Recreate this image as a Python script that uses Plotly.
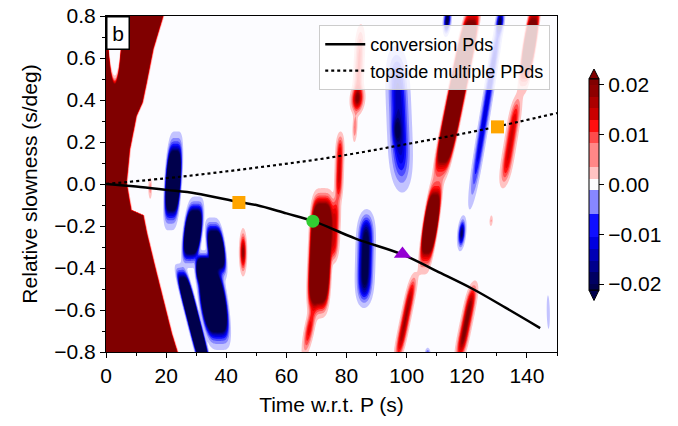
import numpy as np
import plotly.graph_objects as go

# ---------------- axes / ticks ----------------
T_RANGE = [0, 150]
S_RANGE = [-0.8, 0.8]
X_TICKS = [0, 20, 40, 60, 80, 100, 120, 140]
Y_TICKS = [-0.8, -0.6, -0.4, -0.2, 0.0, 0.2, 0.4, 0.6, 0.8]
Y_TICKTEXT = ["−0.8", "−0.6", "−0.4", "−0.2", "0.0", "0.2", "0.4", "0.6", "0.8"]
CB_TICKS = [-0.02, -0.01, 0.0, 0.01, 0.02]
CB_TICKTEXT = ["−0.02", "−0.01", "0.00", "0.01", "0.02"]
CB_MIN, CB_MAX, CB_NBANDS = -0.02, 0.02, 17

# ---------------- predicted phase curves ----------------
PDS_T = [0, 10, 20, 30, 44, 50, 60, 69, 83, 98.5, 110, 122, 133, 144.4]
PDS_S = [0, -0.012, -0.028, -0.045, -0.085, -0.10, -0.14, -0.177, -0.26, -0.335, -0.415, -0.50, -0.59, -0.686]
PPDS_T = [0, 25, 50, 75, 100, 125, 150]
PPDS_S = [0, 0.035, 0.078, 0.127, 0.19, 0.258, 0.338]

# ---------------- markers ----------------
MARK_T = [44.2, 68.8, 98.6, 130.2]
MARK_S = [-0.088, -0.177, -0.333, 0.272]
MARK_SYMBOL = ["square", "circle", "triangle-up", "square"]
MARK_COLOR = ["#ffa500", "#32cd32", "#9400d3", "#ffa500"]

# ---------------- vespagram amplitude features ----------------
# left saturated positive band: right edge (time) as a function of slowness
BAND_S = [-0.85, -0.71, -0.55, -0.39, -0.23, -0.15, -0.125, -0.07, 0.006, 0.165, 0.324, 0.388, 0.484, 0.643, 0.80, 0.85]
BAND_T = [25.2, 22.2, 19.4, 16.6, 13.9, 12.8, 8.8, 8.1, 7.2, 8.3, 10.5, 12.5, 13.9, 16.1, 19.4, 20.0]
BAND_AMP = 0.05
# gap inside the band near the top-left
NOTCH_T, NOTCH_S, NOTCH_HT, NOTCH_HS = 2.9, 0.88, 2.8, 0.41

# streaks: top point, bottom point, visible half-width (s), peak amplitude,
# cross-profile power, along-profile power
ST_T0 = [23.4, 30.2, 35.3, 33.5, 24.3, 32.3, 45.6, 14.7, 19.2, 72.2, 69.5, 76.5, 78.0, 84.8, 84.0, 83.0, 86.7, 96.5, 96.6, 123.0, 110.5, 102.8, 132.0, 131.5, 118.8, 137.2, 128.2, 143.5, 114.0, 147.0, 107.0, 122.7]
ST_S0 = [0.25, -0.06, -0.16, -0.34, -0.38, -0.32, -0.21, 0.03, -0.76, -0.02, -0.55, -0.05, 0.25, 0.76, 0.48, 0.34, -0.12, 0.66, 0.34, 0.88, 0.05, -0.42, 0.86, 0.84, -0.15, 0.43, -0.15, 0.90, 0.86, -0.53, -0.78, -0.46]
ST_T1 = [21.3, 27.5, 38.0, 38.0, 34.0, 33.0, 45.6, 14.7, 19.2, 70.3, 65.8, 75.5, 77.2, 83.4, 83.3, 82.6, 85.8, 98.5, 96.8, 110.5, 105.5, 96.5, 121.0, 130.5, 117.8, 132.0, 128.0, 138.3, 113.0, 147.2, 107.0, 117.0]
ST_S1 = [-0.22, -0.40, -0.46, -0.79, -0.92, -0.50, -0.44, -0.07, -0.84, -0.64, -0.83, -0.38, -0.10, 0.34, 0.33, 0.20, -0.59, -0.04, 0.17, 0.00, -0.43, -0.86, -0.12, 0.70, -0.32, -0.02, -0.20, 0.43, 0.70, -0.69, -0.85, -0.86]
ST_W = [3.0, 3.4, 3.3, 5.0, 2.5, 3.2, 1.4, 0.6, 1.0, 4.2, 1.8, 2.0, 1.6, 1.8, 2.6, 0.8, 3.4, 4.2, 1.8, 3.3, 2.8, 1.9, 1.8, 1.5, 1.5, 2.2, 0.5, 2.4, 1.5, 0.5, 1.0, 2.2]
ST_A = [-0.1, -0.1, -0.08, -0.12, -0.08, -0.1, 0.02, 0.005, 0.006, 0.08, 0.012, 0.014, 0.014, 0.009, 0.016, 0.006, -0.026, -0.015, -0.01, 0.08, 0.08, 0.018, -0.013, -0.02, -0.02, 0.014, 0.004, 0.05, -0.025, -0.003, -0.01, 0.022]
ST_PT = [4, 4, 4, 4, 4, 4, 2, 2, 2, 4, 2, 2, 2, 2, 2, 2, 2, 2, 2, 4, 4, 2, 2, 2, 2, 2, 2, 4, 2, 2, 2, 2]
ST_PS = [2, 2, 2, 2, 4, 2, 2, 2, 2, 4, 2, 4, 4, 4, 2, 2, 4, 4, 2, 4, 2, 4, 4, 2, 2, 4, 2, 2, 2, 2, 2, 4]

THR = 0.0012

# ---------------- build the field ----------------
t = np.linspace(T_RANGE[0], T_RANGE[1], 601)
s = np.linspace(S_RANGE[0], S_RANGE[1], 321)
TT, SS = np.meshgrid(t, s)

edge = np.interp(SS, BAND_S, BAND_T) - 0.65
band = BAND_AMP * 0.5 * (1 - np.tanh((TT - edge) / 0.35))
d = np.sqrt(((TT - NOTCH_T) / NOTCH_HT) ** 2 + ((SS - NOTCH_S) / NOTCH_HS) ** 2)
band *= 0.5 * (1 + np.tanh((d - 1) / 0.06))
Z = band.copy()

for t0, s0, t1, s1, w, a, pt, ps in zip(ST_T0, ST_S0, ST_T1, ST_S1, ST_W, ST_A, ST_PT, ST_PS):
    sm = 0.5 * (s0 + s1)
    hl = 0.5 * abs(s0 - s1)
    tc = t0 + (SS - s0) * (t1 - t0) / (s1 - s0)
    lr = 2 * np.log(abs(a) / THR)
    sig_t = w / lr ** (1.0 / pt)
    sig_s = hl / lr ** (1.0 / ps)
    Z += a * np.exp(-0.5 * (np.abs(TT - tc) / sig_t) ** pt - 0.5 * (np.abs(SS - sm) / sig_s) ** ps)

Z = np.clip(Z, -0.025, 0.025)

# ---------------- seismic colormap ----------------
def seismic(x):
    pts = [(0.0, (0, 0, 0.3)), (0.25, (0, 0, 1)), (0.5, (1, 1, 1)), (0.75, (1, 0, 0)), (1.0, (0.5, 0, 0))]
    for (x0, c0), (x1, c1) in zip(pts[:-1], pts[1:]):
        if x0 <= x <= x1:
            f = (x - x0) / (x1 - x0)
            c = [c0[i] + f * (c1[i] - c0[i]) for i in range(3)]
            return "rgb(%d,%d,%d)" % tuple(round(255 * v) for v in c)
    return "rgb(0,0,0)"

cs = (CB_MAX - CB_MIN) / CB_NBANDS
nslots = CB_NBANDS + 1
band_colors = [seismic(0.0)]
for k in range(CB_NBANDS):
    if k == CB_NBANDS // 2:
        band_colors.append("rgb(252,252,255)")
    else:
        band_colors.append(seismic((k + 0.5) / CB_NBANDS))
over_color = seismic(1.0)
colorscale = []
for j, c in enumerate(band_colors):
    lo = j / nslots
    hi = (j + 1) / nslots if j < nslots - 1 else 0.999
    colorscale.append([lo, c])
    colorscale.append([hi, c])
colorscale.append([1.0, over_color])

# ---------------- figure ----------------
W, H = 678, 426
ML, MR, MT, MB = 106, 121, 16, 74
pw, ph = W - ML - MR, H - MT - MB

def px2paper(x, y):
    return (x - ML) / pw, (H - MB - y) / ph

fig = go.Figure()
fig.add_trace(go.Contour(
    x=t, y=s, z=Z,
    contours=dict(start=CB_MIN, end=CB_MAX, size=cs, coloring="fill", showlines=False),
    colorscale=colorscale,
    line=dict(width=0),
    hoverinfo="skip",
    showlegend=False,
    colorbar=dict(
        thickness=10, thicknessmode="pixels",
        len=211, lenmode="pixels",
        x=px2paper(589, 0)[0], xanchor="left", xpad=0,
        y=px2paper(0, 184.5)[1], yanchor="middle", ypad=0,
        outlinewidth=1, outlinecolor="black",
        tickvals=CB_TICKS, ticktext=CB_TICKTEXT,
        ticks="outside", ticklen=5, tickwidth=1, tickcolor="black",
        tickfont=dict(size=21),
    ),
))

fig.add_trace(go.Scatter(x=PDS_T, y=PDS_S, mode="lines", line=dict(color="black", width=2.5, shape="spline"),
                         name="conversion Pds", hoverinfo="skip"))
fig.add_trace(go.Scatter(x=PPDS_T, y=PPDS_S, mode="lines", line=dict(color="black", width=2.2, dash="dot", shape="spline"),
                         name="topside multiple PPds", hoverinfo="skip"))
for tm, sm_, sym, col in zip(MARK_T, MARK_S, MARK_SYMBOL, MARK_COLOR):
    fig.add_trace(go.Scatter(x=[tm], y=[sm_], mode="markers",
                             marker=dict(symbol=sym, size=13 if sym != "triangle-up" else 15, color=col, line=dict(width=0)),
                             showlegend=False, hoverinfo="skip"))

# colorbar extension triangles
x0p, _ = px2paper(589, 0)
x1p, _ = px2paper(599, 0)
xm, _ = px2paper(594, 0)
_, yt0 = px2paper(0, 78.9)
_, yt1 = px2paper(0, 69)
_, yb0 = px2paper(0, 290.1)
_, yb1 = px2paper(0, 300.5)
fig.add_shape(type="path", xref="paper", yref="paper",
              path=f"M {x0p} {yt0} L {x1p} {yt0} L {xm} {yt1} Z",
              fillcolor=over_color, line=dict(color="black", width=1))
fig.add_shape(type="path", xref="paper", yref="paper",
              path=f"M {x0p} {yb0} L {x1p} {yb0} L {xm} {yb1} Z",
              fillcolor=seismic(0.0), line=dict(color="black", width=1))

fig.add_annotation(text="b", xref="paper", yref="paper", x=0, y=1, xanchor="left", yanchor="top",
                   showarrow=False, font=dict(size=21), bgcolor="white", bordercolor="black",
                   borderwidth=1.5, borderpad=2, width=17, height=27)

axis_common = dict(showline=True, mirror=True, linecolor="black", linewidth=1.2, showgrid=False, zeroline=False,
                   ticks="outside", ticklen=5, tickwidth=1, tickcolor="black", tickfont=dict(size=21))
fig.update_xaxes(range=T_RANGE, tickvals=X_TICKS, title=dict(text="Time w.r.t. P (s)", font=dict(size=21), standoff=11),
                 minor=dict(ticks="outside", ticklen=3, tickwidth=1, tickcolor="black", dtick=10, tick0=0, showgrid=False),
                 **axis_common)
fig.update_yaxes(range=S_RANGE, tickvals=Y_TICKS, ticktext=Y_TICKTEXT,
                 title=dict(text="Relative slowness (s/deg)", font=dict(size=21), standoff=10),
                 minor=dict(ticks="outside", ticklen=3, tickwidth=1, tickcolor="black", dtick=0.1, tick0=0, showgrid=False),
                 **axis_common)

fig.update_layout(
    width=W, height=H, margin=dict(l=ML, r=MR, t=MT, b=MB, autoexpand=False),
    paper_bgcolor="white", plot_bgcolor="white",
    font=dict(family="Liberation Sans, Arial, sans-serif", size=21, color="black"),
    legend=dict(x=0.985, y=0.973, xanchor="right", yanchor="top", bgcolor="rgba(255,255,255,0.8)",
                bordercolor="#cccccc", borderwidth=1, font=dict(size=18), tracegroupgap=0, itemwidth=40),
    showlegend=True,
)

fig.write_html("out.html", config={"displayModeBar": False},
               post_script="document.body.style.margin='0px';")
